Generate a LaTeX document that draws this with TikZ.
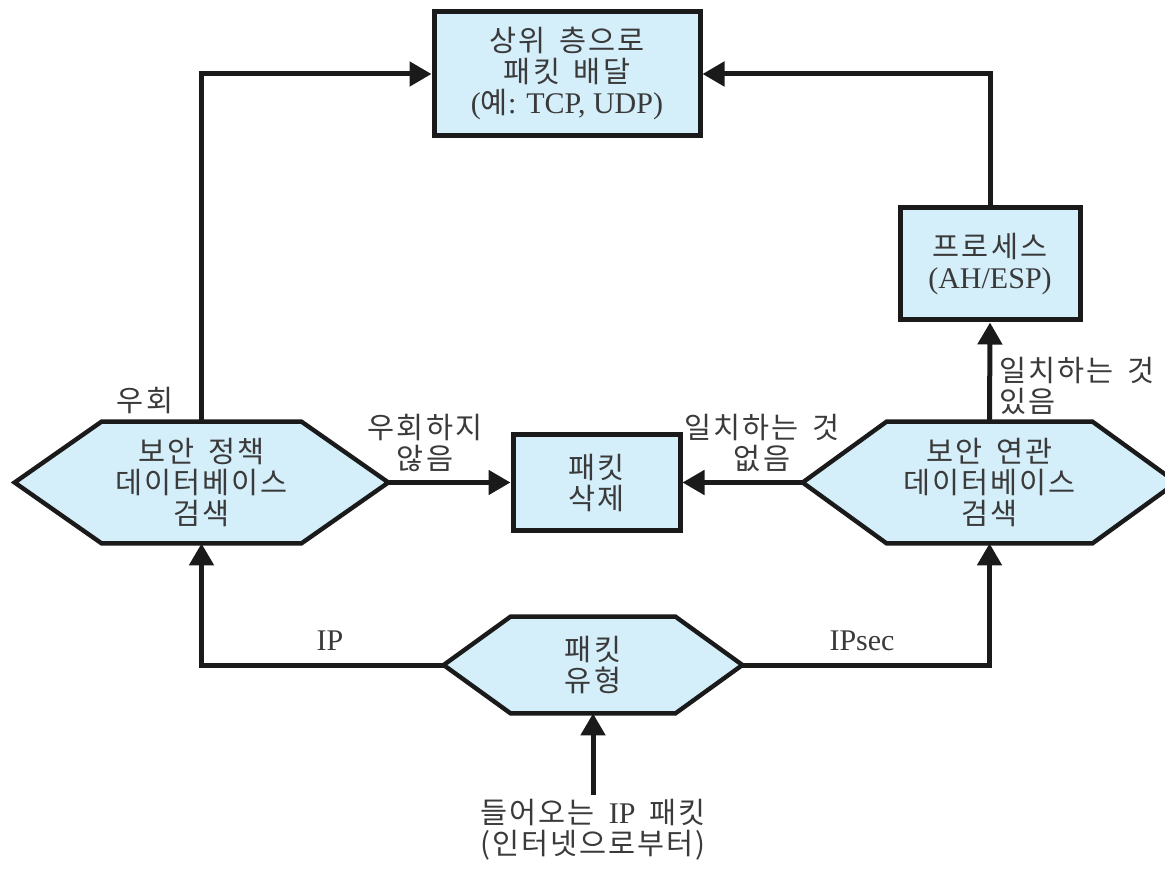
\documentclass[tikz,border=0pt]{standalone}
\usepackage{fontspec}
\setmainfont{Liberation Serif}
\newfontfamily\kr[Scale=0.98,LetterSpace=7,WordSpace=1.6]{Noto Sans CJK KR}
\usetikzlibrary{arrows.meta,backgrounds}
\definecolor{boxfill}{HTML}{D4EEFA}
\definecolor{ink}{HTML}{1A1A1A}
\definecolor{txt}{HTML}{3A3A3A}
\newcommand\hexbg[2]{%
  \begin{scope}[on background layer]
    \draw[hexline] (#1.west) -- ([xshift=#2]#1.north west) -- ([xshift=-#2]#1.north east)
      -- (#1.east) -- ([xshift=-#2]#1.south east) -- ([xshift=#2]#1.south west) -- cycle;
  \end{scope}}
\begin{document}
\begin{tikzpicture}[x=0.5pt,y=-0.5pt,
  base/.style={text=txt,font=\fontsize{15}{15.5}\selectfont,align=center,inner sep=0pt},
  boxnode/.style={base,draw=ink,fill=boxfill,line width=2.5pt},
  hexnode/.style={base},
  hexline/.style={draw=ink,fill=boxfill,line width=2.2pt,line join=miter},
  lbl/.style={base},
  conn/.style={draw=ink,line width=2.5pt,-{Triangle[length=11pt,width=12pt]}}]
\useasboundingbox (0,0) rectangle (1165,870);
\clip (0,0) rectangle (1165,870);

\node[boxnode,minimum width=133pt,minimum height=62pt] (top) at (567,74)
  {{\kr 상위 층으로}\\{\kr 패킷 배달}\\({\kr 예}: TCP, UDP)};
\node[boxnode,minimum width=90pt,minimum height=56pt] (proc) at (990,264)
  {{\kr 프로세스}\\(AH/ESP)};
\node[boxnode,minimum width=83.5pt,minimum height=47.5pt] (del) at (596.5,482.5)
  {{\kr 패킷}\\{\kr 삭제}};

\node[hexnode,minimum width=186.5pt,minimum height=60.5pt] (spd) at (201.5,482.5)
  {{\kr 보안 정책}\\{\kr 데이터베이스}\\{\kr 검색}};
\hexbg{spd}{43.5pt}
\node[hexnode,minimum width=186.5pt,minimum height=60.5pt] (sad) at (989.5,482.5)
  {{\kr 보안 연관}\\{\kr 데이터베이스}\\{\kr 검색}};
\hexbg{sad}{42pt}
\node[hexnode,minimum width=149pt,minimum height=48pt] (ptype) at (593,665)
  {{\kr 패킷}\\{\kr 유형}};
\hexbg{ptype}{33.5pt}

\node[lbl,inner sep=2pt] (inpkt) at (593,830)
  {{\kr 들어오는 }IP{\kr{} 패킷}\\{\kr (인터넷으로부터)}};

\draw[conn] (inpkt.north) -- (ptype.south);
\draw[conn] (ptype.west) -| (spd.south);
\draw[conn] (ptype.east) -| (sad.south);
\draw[conn] (spd.east) -- (del.west);
\draw[conn] (sad.west) -- (del.east);
\draw[conn] (sad.north) -- (proc.south);
\draw[conn] (proc.north) |- (top.east);
\draw[conn] (spd.north) |- (top.west);

\node[lbl] (lbypass) at (145,400) {{\kr 우회}};
\node[lbl] (lnobypass) at (425,443) {{\kr 우회하지}\\{\kr 않음}};
\node[lbl] (lnomatch) at (762,443) {{\kr 일치하는 것}\\{\kr 없음}};
\node[lbl,anchor=west,align=left] (lmatch) at (999,386) {{\kr 일치하는 것}\\{\kr 있음}};
\node[lbl] (lip) at (330,641) {IP};
\node[lbl] (lipsec) at (862,641) {IPsec};
\end{tikzpicture}
\end{document}
